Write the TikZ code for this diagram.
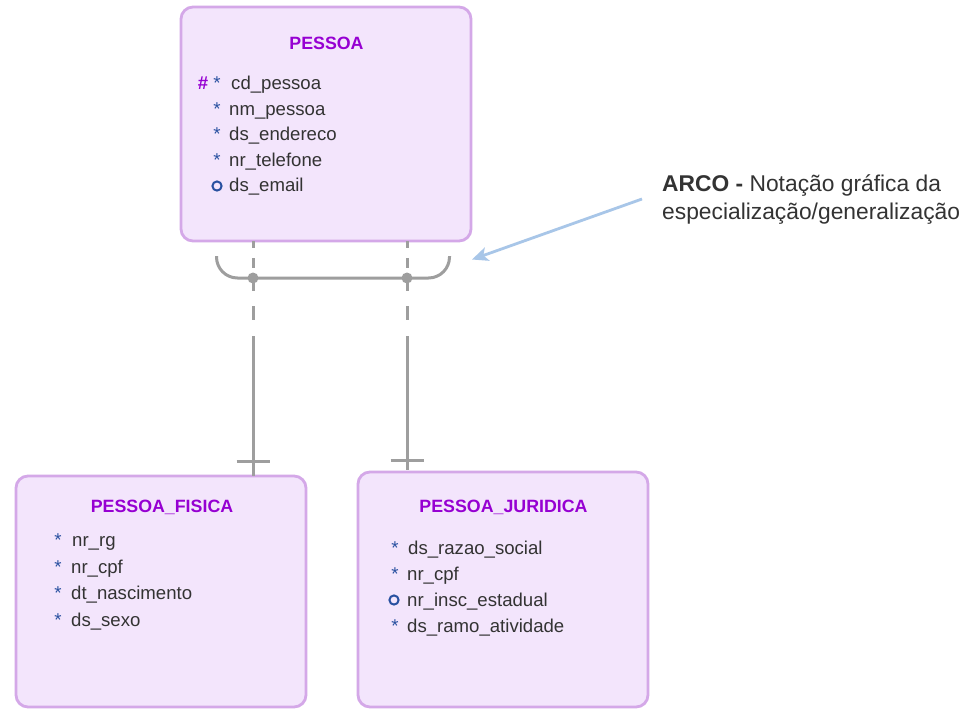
\documentclass[tikz,border=0pt]{standalone}
\usepackage{fontspec}
\setmainfont{Liberation Sans}
\usetikzlibrary{arrows.meta,calc}
\definecolor{boxfill}{RGB}{243,229,252}
\definecolor{boxline}{RGB}{212,168,232}
\definecolor{titlec}{RGB}{150,0,210}
\definecolor{starc}{RGB}{40,80,160}
\definecolor{textc}{RGB}{51,51,51}
\definecolor{linec}{RGB}{158,158,158}
\definecolor{arrowc}{RGB}{168,198,232}
\newcommand{\attrfont}{\fontsize{18.6}{22}\selectfont}
\newcommand{\titlefont}{\fontsize{17.8}{21}\selectfont\bfseries}
\newcommand{\notefont}{\fontsize{22.8}{28}\selectfont}
\tikzset{
  entity/.style={draw=boxline, fill=boxfill, line width=2.8pt, rounded corners=12pt,
    minimum width=290pt, inner sep=0pt, outer sep=0pt},
  etitle/.style={anchor=base, font=\titlefont, text=titlec, inner sep=0pt},
  attr/.style={anchor=base west, font=\attrfont, text=textc, inner sep=0pt},
  mand/.style={anchor=base, font=\attrfont, text=starc, inner sep=0pt},
  optc/.style={draw=starc, line width=2pt},
  rel/.style={draw=linec, line width=3pt},
  reldash/.style={rel, dash pattern=on 7pt off 10pt on 10pt off 8pt on 15pt off 15pt on 14pt off 16pt},
  note/.style={anchor=base west, font=\notefont, text=textc, inner sep=0pt},
}
\begin{document}
\begin{tikzpicture}[x=1pt,y=-1pt]
\useasboundingbox[fill=white] (0,0) rectangle (973,717);

% entities
\node[entity, minimum height=234pt] (P) at (326,124) {};
\node[entity, minimum height=231pt] (F) at (161,591.5) {};
\node[entity, minimum height=235pt] (J) at (503,589.5) {};

% PESSOA
\node[etitle] (Pt) at (326.5,49) {PESSOA};
\node[anchor=base, font=\attrfont\bfseries, text=titlec, inner sep=0pt] (Ph) at (203,89.5) {\#};
\node[mand] (Ps1) at (217,89.5) {*};
\node[attr] (Pa1) at (231,89.5) {cd\_pessoa};
\node[mand] (Ps2) at (217,115) {*};
\node[attr] (Pa2) at (229,115) {nm\_pessoa};
\node[mand] (Ps3) at (217,140.5) {*};
\node[attr] (Pa3) at (229,140.5) {ds\_endereco};
\node[mand] (Ps4) at (217,166) {*};
\node[attr] (Pa4) at (229,166) {nr\_telefone};
\draw[optc] (217,186) circle (4.6pt);
\node[attr] (Pa5) at (229,191.5) {ds\_email};

% PESSOA_FISICA
\node[etitle] (Ft) at (162,512) {PESSOA\_FISICA};
\node[mand] (Fs1) at (58,546.5) {*};
\node[attr] (Fa1) at (72,546.5) {nr\_rg};
\node[mand] (Fs2) at (58,573) {*};
\node[attr] (Fa2) at (71,573) {nr\_cpf};
\node[mand] (Fs3) at (58,599.5) {*};
\node[attr] (Fa3) at (71,599.5) {dt\_nascimento};
\node[mand] (Fs4) at (58,626) {*};
\node[attr] (Fa4) at (71,626) {ds\_sexo};

% PESSOA_JURIDICA
\node[etitle] (Jt) at (503.5,512) {PESSOA\_JURIDICA};
\node[mand] (Js1) at (395,554.5) {*};
\node[attr] (Ja1) at (408,554.5) {ds\_razao\_social};
\node[mand] (Js2) at (395,580) {*};
\node[attr] (Ja2) at (407,580) {nr\_cpf};
\draw[optc] (394,600) circle (4.6pt);
\node[attr] (Ja3) at (407,606) {nr\_insc\_estadual};
\node[mand] (Js4) at (395,632) {*};
\node[attr] (Ja4) at (407,632) {ds\_ramo\_atividade};

% relationships (subtypes)
\coordinate (dL) at (253,336);
\coordinate (dR) at (407,336);
\coordinate (eR) at (407,470);
\draw[reldash] (dL |- P.south) -- (dL);
\draw[rel] (dL) -- (dL |- F.north);
\draw[reldash] (dR |- P.south) -- (dR);
\draw[rel] (dR) -- (eR);
\draw[rel] ($(dL |- F.north)+(-16.5,-15)$) -- ++(33,0);
\draw[rel] ($(eR)+(-16.5,-10)$) -- ++(33,0);

% arc
\draw[rel, rounded corners=21pt] (216.5,256) -- (216.5,278) -- (449.5,278) -- (449.5,256);
\fill[linec] (dL |- 0,278) circle (5.5pt);
\fill[linec] (dR |- 0,278) circle (5.5pt);

% note
\node[note] (n1) at (662,191) {\textbf{ARCO -} Notação gráfica da};
\node[note] (n2) at (662,219) {especialização/generalização};
\coordinate (as) at (642,199);
\coordinate (ae) at (472,259.5);
\draw[draw=arrowc, line width=2.8pt, -{Stealth[length=16pt,width=14pt,inset=4pt]}] (as) -- (ae);
\end{tikzpicture}
\end{document}
